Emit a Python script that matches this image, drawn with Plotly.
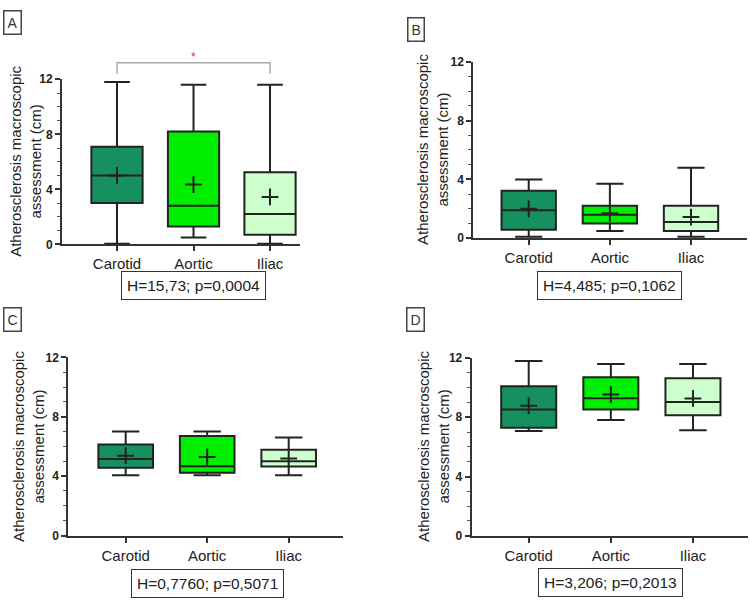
import plotly.graph_objects as go

# ---------------- data ----------------
categories = ["Carotid", "Aortic", "Iliac"]

a_min = [0.05, 0.5, 0.05]
a_q1 = [3.0, 1.3, 0.7]
a_med = [5.0, 2.8, 2.2]
a_q3 = [7.1, 8.2, 5.25]
a_max = [11.8, 11.6, 11.6]
a_mean = [5.0, 4.35, 3.45]

b_min = [0.1, 0.5, 0.1]
b_q1 = [0.58, 1.0, 0.49]
b_med = [1.9, 1.6, 1.1]
b_q3 = [3.23, 2.2, 2.2]
b_max = [4.0, 3.7, 4.8]
b_mean = [2.0, 1.7, 1.44]

c_min = [4.06, 4.06, 4.06]
c_q1 = [4.56, 4.23, 4.65]
c_med = [5.15, 4.67, 5.0]
c_q3 = [6.14, 6.71, 5.77]
c_max = [7.0, 7.0, 6.6]
c_mean = [5.38, 5.29, 5.18]

d_min = [7.07, 7.82, 7.12]
d_q1 = [7.29, 8.52, 8.13]
d_med = [8.52, 9.29, 9.03]
d_q3 = [10.09, 10.7, 10.64]
d_max = [11.8, 11.6, 11.6]
d_mean = [8.77, 9.53, 9.27]

panel_letters = ["A", "B", "C", "D"]
stats_text = ["H=15,73; p=0,0004", "H=4,485; p=0,1062",
              "H=0,7760; p=0,5071", "H=3,206; p=0,2013"]
y_ticks = [0, 4, 8, 12]
y_title = "Atherosclerosis macroscopic<br>assessment (cm)"

# significance bracket (panel A): Carotid vs Iliac
sig_pair = ["Carotid", "Iliac"]
sig_label = "*"

# ---------------- styling / layout ----------------
W, H = 750, 606
colors = ["#17905F", "#00EE00", "#CCFFCC"]
edge = "#222222"
font_family = "Liberation Sans, Arial, sans-serif"

panels = [
    (a_min, a_q1, a_med, a_q3, a_max, a_mean),
    (b_min, b_q1, b_med, b_q3, b_max, b_mean),
    (c_min, c_q1, c_med, c_q3, c_max, c_mean),
    (d_min, d_q1, d_med, d_q3, d_max, d_mean),
]

# pixel geometry per panel: x-axis left/right, y-axis top(12)/bottom(0)
geom = [
    dict(xl=62, xr=300, yt=74, yb=243, xrange=[-0.719, 2.392], title_x=26, lab=(3, 3), stat_y=285.5),
    dict(xl=473.3, xr=747, yt=56, yb=236.7, xrange=[-0.683, 2.690], title_x=433, lab=(407, 10), stat_y=284.7),
    dict(xl=68.3, xr=343.3, yt=358.7, yb=541, xrange=[-0.704, 2.670], title_x=28.5, lab=(3, 307), stat_y=589.7),
    dict(xl=471.7, xr=748, yt=359.3, yb=541.3, xrange=[-0.694, 2.670], title_x=434, lab=(406, 307), stat_y=589),
]


def px_x(p):
    return p / W


def px_y(p):
    return 1 - p / H


fig = go.Figure()
layout = dict(
    width=W, height=H, margin=dict(l=0, r=0, t=0, b=0),
    paper_bgcolor="white", plot_bgcolor="rgba(0,0,0,0)",
    showlegend=False, boxmode="overlay",
    font=dict(family=font_family, color="#222222"),
)
annotations = []

for i, (mn, q1, med, q3, mx, mean) in enumerate(panels):
    g = geom[i]
    sfx = "" if i == 0 else str(i + 1)
    xa, ya = "x" + sfx, "y" + sfx
    for j, cat in enumerate(categories):
        fig.add_trace(go.Box(
            x=[cat], q1=[q1[j]], median=[med[j]], q3=[q3[j]],
            lowerfence=[mn[j]], upperfence=[mx[j]],
            fillcolor=colors[j], line=dict(color=edge, width=2),
            width=0.67, whiskerwidth=0.5, boxpoints=False,
            xaxis=xa, yaxis=ya, hoverinfo="skip",
        ))
    fig.add_trace(go.Scatter(
        x=categories, y=mean, mode="markers",
        marker=dict(symbol="cross-thin", size=12, line=dict(width=2, color=edge)),
        xaxis=xa, yaxis=ya, hoverinfo="skip",
    ))
    layout["xaxis" + sfx] = dict(
        domain=[px_x(g["xl"]), px_x(g["xr"])], anchor=ya,
        type="category", categoryorder="array", categoryarray=categories,
        range=g["xrange"], showline=True, linecolor="#333333", linewidth=2,
        ticks="outside", ticklen=5, tickwidth=2, tickcolor="#333333",
        showgrid=False, zeroline=False,
        tickfont=dict(size=15, color="#222222", family=font_family),
    )
    layout["yaxis" + sfx] = dict(
        domain=[px_y(g["yb"]), px_y(g["yt"])], anchor=xa,
        range=[0, 12], tickvals=y_ticks,
        showline=True, linecolor="#333333", linewidth=2,
        ticks="outside", ticklen=5, tickwidth=2, tickcolor="#333333",
        minor=dict(dtick=1, ticks="outside", ticklen=3, tickwidth=1, tickcolor="#555555"),
        showgrid=False, zeroline=False,
        tickfont=dict(size=12, color="#222222", family=font_family, weight="bold"),
    )
    # y-axis title
    annotations.append(dict(
        text=y_title, textangle=-90, xref="paper", yref=ya + " domain",
        x=px_x(g["title_x"]), y=0.5, xanchor="center", yanchor="middle",
        showarrow=False, font=dict(size=15, color="#222222", family=font_family),
    ))
    # statistics box
    annotations.append(dict(
        text=stats_text[i], xref=xa, yref="paper",
        x="Aortic", y=px_y(g["stat_y"]), xanchor="center", yanchor="middle",
        showarrow=False, font=dict(size=15.5, color="#222222", family=font_family),
        bordercolor="#333333", borderwidth=1, borderpad=5, bgcolor="white",
    ))
    # panel letter
    annotations.append(dict(
        text=panel_letters[i], xref="paper", yref="paper",
        x=px_x(g["lab"][0]), y=px_y(g["lab"][1]), xanchor="left", yanchor="top",
        showarrow=False, font=dict(size=14, color="#333333", family=font_family),
        bordercolor="#444444", borderwidth=1.5, borderpad=3, bgcolor="white",
    ))

# extended (invisible) y axis over panel A for the significance bracket
gA = geom[0]
ppu = (gA["yb"] - gA["yt"]) / 12.0
top_px = 40
layout["yaxis5"] = dict(
    domain=[px_y(gA["yb"]), px_y(top_px)], anchor="x",
    range=[0, (gA["yb"] - top_px) / ppu], visible=False,
)
bracket_low, bracket_high = 12.4, 13.2
fig.add_trace(go.Scatter(
    x=[sig_pair[0], sig_pair[0], sig_pair[1], sig_pair[1]],
    y=[bracket_low, bracket_high, bracket_high, bracket_low],
    mode="lines", line=dict(color="#AAAAAA", width=1.5),
    xaxis="x", yaxis="y5", hoverinfo="skip",
))
annotations.append(dict(
    text=sig_label, xref="x", yref="y5", x="Aortic", y=13.6,
    xanchor="center", yanchor="middle", showarrow=False,
    font=dict(size=12, color="#E03030"),
))

layout["annotations"] = annotations
fig.update_layout(**layout)
fig.write_html("out.html", config={"displayModeBar": False},
               post_script="document.body.style.margin='0';")
